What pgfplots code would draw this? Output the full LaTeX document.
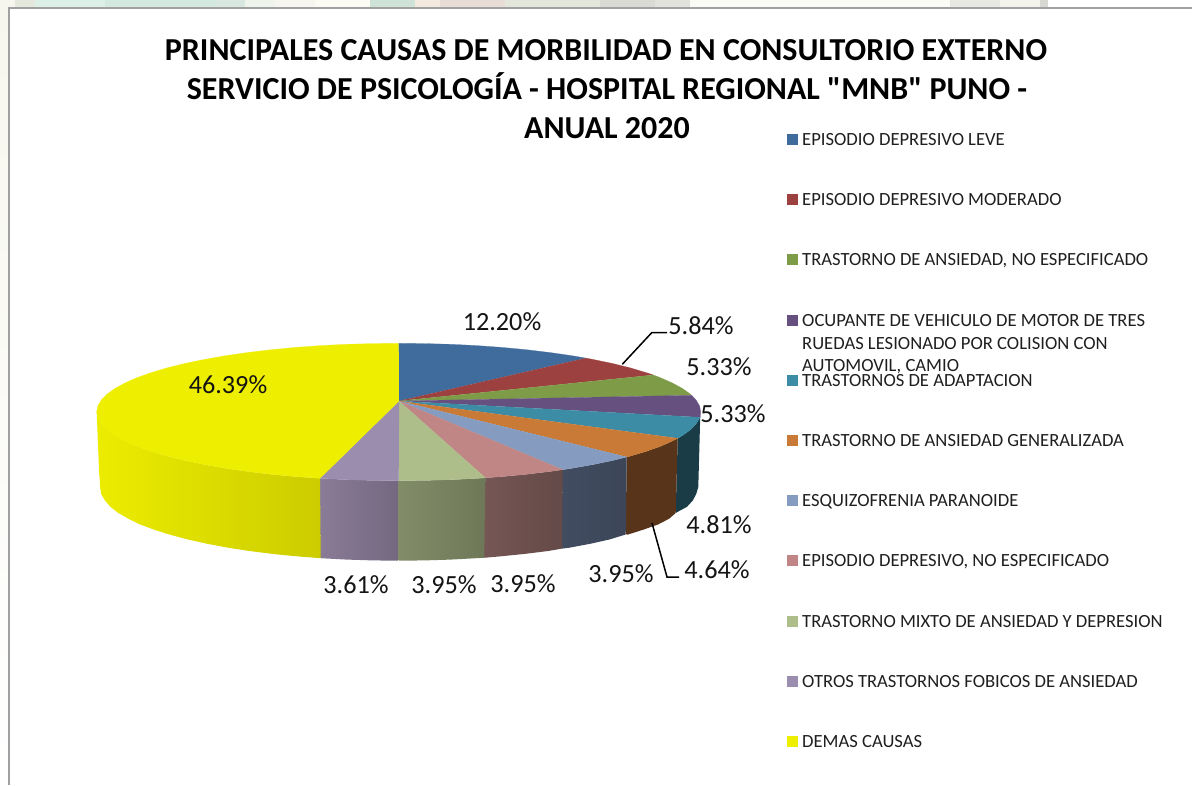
\documentclass[border=0pt]{standalone}
\usepackage{fontspec}
\setmainfont{Carlito}
\newfontfamily\plainfont{Carlito}
\usepackage{pgfplots}
\pgfplotsset{compat=1.18}
\definecolor{cBlue}{HTML}{3F6C9C}
\definecolor{cRed}{HTML}{9C4140}
\definecolor{cGreen}{HTML}{7E9B48}
\definecolor{cPurple}{HTML}{66507F}
\definecolor{cTeal}{HTML}{3D8CA5}
\definecolor{cOrange}{HTML}{C87A36}
\definecolor{cPeri}{HTML}{859CC0}
\definecolor{cPink}{HTML}{C08685}
\definecolor{cLGreen}{HTML}{AEBE8B}
\definecolor{cLilac}{HTML}{9B8DAE}
\definecolor{cYellow}{HTML}{EEEE00}
\definecolor{cCream}{HTML}{F7F6EE}
\newcommand{\legitem}[3]{%
  \addplot[only marks, mark=square*, mark size=5pt, mark options={draw=#1,fill=#1}] coordinates {(792,#2)};
  \node[anchor=base west, inner sep=0pt, font=\fontsize{18.6}{18.6}\selectfont, text=black!88] at (axis cs:802,#2+6) {#3};
}
\newcommand{\lab}[3]{\node[anchor=base, inner sep=0pt, font=\fontsize{26.2}{26.2}\selectfont, text=black!92] at (axis cs:#1,#2+8) {#3};}
\begin{document}
\begin{tikzpicture}
\begin{axis}[hide axis, scale only axis, width=1192pt, height=785pt,
  xmin=0, xmax=1192, ymin=0, ymax=785, y dir=reverse, clip=true]
\fill[white] (axis cs:0,0) rectangle (axis cs:1192,785);
% background strips
\shade[top color=cCream, bottom color=white] (axis cs:0,8) rectangle (axis cs:9,785);
\fill[fill={rgb,255:red,246;green,245;blue,238}] (axis cs:0,0) rectangle (axis cs:15,8);
\fill[fill={rgb,255:red,228;green,232;blue,220}] (axis cs:15,0) rectangle (axis cs:35,8);
\fill[fill={rgb,255:red,221;green,240;blue,232}] (axis cs:35,0) rectangle (axis cs:105,8);
\fill[fill={rgb,255:red,211;green,232;blue,223}] (axis cs:105,0) rectangle (axis cs:215,8);
\fill[fill={rgb,255:red,216;green,232;blue,224}] (axis cs:215,0) rectangle (axis cs:245,8);
\fill[fill={rgb,255:red,238;green,243;blue,235}] (axis cs:245,0) rectangle (axis cs:275,8);
\fill[fill={rgb,255:red,246;green,245;blue,239}] (axis cs:275,0) rectangle (axis cs:315,8);
\fill[fill={rgb,255:red,251;green,250;blue,243}] (axis cs:315,0) rectangle (axis cs:370,8);
\fill[fill={rgb,255:red,207;green,226;blue,216}] (axis cs:370,0) rectangle (axis cs:415,8);
\fill[fill={rgb,255:red,243;green,233;blue,223}] (axis cs:415,0) rectangle (axis cs:440,8);
\fill[fill={rgb,255:red,232;green,221;blue,214}] (axis cs:440,0) rectangle (axis cs:505,8);
\fill[fill={rgb,255:red,227;green,230;blue,218}] (axis cs:505,0) rectangle (axis cs:600,8);
\fill[fill={rgb,255:red,217;green,218;blue,211}] (axis cs:600,0) rectangle (axis cs:655,8);
\fill[fill={rgb,255:red,226;green,226;blue,220}] (axis cs:655,0) rectangle (axis cs:690,8);
\fill[fill={rgb,255:red,251;green,251;blue,246}] (axis cs:690,0) rectangle (axis cs:950,8);
\fill[fill={rgb,255:red,232;green,232;blue,226}] (axis cs:950,0) rectangle (axis cs:1000,8);
\fill[fill={rgb,255:red,243;green,243;blue,236}] (axis cs:1000,0) rectangle (axis cs:1040,8);
\fill[fill={rgb,255:red,216;green,216;blue,210}] (axis cs:1040,0) rectangle (axis cs:1048,8);
% frame
\addplot[draw={rgb,255:red,160;green,160;blue,160}, line width=2pt] coordinates {(9,785) (9,8) (1192,8)};

% side faces
\addplot[draw=none, fill={rgb,255:red,26;green,60;blue,71}] coordinates {(700.2,417.3)(699.6,418)(696.1,423.9)(690.4,429.8)(682.5,435.5)(677.7,438.3)(675.7,513)(679.2,511)(687,506.8)(692.7,500.6)(696.1,494.3)(698.3,487)};
\addplot[draw=none, fill={rgb,255:red,87;green,52;blue,26}] coordinates {(677.7,438.3)(672.4,441)(660.2,446.4)(646.1,451.4)(630,456.2)(626.7,457)(625.7,534)(627.4,534.7)(643.2,529.7)(658,524.5)(669.2,518.7)(675.7,513)};
\addplot[draw=none, left color={rgb,255:red,66;green,76;blue,97}, right color={rgb,255:red,60;green,70;blue,88}] coordinates {(626.7,457)(612.2,460.6)(592.8,464.6)(571.9,468.3)(562.7,469.7)(562,548.6)(569.9,547.6)(590.6,543.7)(609.8,539.4)(625.7,534.5)};
\addplot[draw=none, left color={rgb,255:red,117;green,86;blue,84}, right color={rgb,255:red,100;green,74;blue,72}] coordinates {(562.7,469.7)(549.7,471.5)(526.3,474.3)(502,476.6)(485.3,477.8)(484.3,557.8)(500.8,556.3)(524.9,553.9)(548,551)(562,548.6)};
\addplot[draw=none, left color={rgb,255:red,130;green,140;blue,104}, right color={rgb,255:red,110;green,120;blue,88}] coordinates {(485.3,477.8)(476.9,478.4)(451.1,479.7)(425,480.4)(398.7,480.7)(398.7,560.7)(424.7,560.4)(450.5,559.6)(476,558.2)(484.3,557.8)};
\addplot[draw=none, left color={rgb,255:red,138;green,123;blue,150}, right color={rgb,255:red,116;green,104;blue,128}] coordinates {(398.7,480.7)(372.4,480.4)(346.3,479.7)(320,478.3)(320.7,558.2)(347,559.6)(372.7,560.4)(398.7,560.7)};
\addplot[draw=none, left color={rgb,255:red,236;green,236;blue,0}, middle color={rgb,255:red,232;green,232;blue,0}, right color={rgb,255:red,204;green,204;blue,0}] coordinates {(320,478.3)(295.4,476.6)(271.1,474.3)(247.7,471.5)(225.5,468.3)(204.6,464.6)(185.2,460.6)(167.4,456.2)(151.3,451.4)(137.2,446.4)(125,441)(114.9,435.5)(107,429.8)(101.3,423.9)(97.8,418)(96.7,412)(99,470)(100.2,488)(101.3,494.3)(105,500.6)(110.4,506.8)(118.2,512.9)(128.2,518.7)(140.2,524.5)(154.2,529.7)(170,534.7)(187.6,539.4)(206.8,543.7)(227.5,547.6)(249.4,551)(272.5,553.9)(296.6,556.3)(320.7,558.2)};

% top face
\addplot[fill=cBlue, draw=cBlue, line width=0.2pt] coordinates {(399,401)(398.7,343.3)(425,343.6)(451.1,344.3)(476.9,345.6)(502,347.4)(526.3,349.7)(549.7,352.5)(571.9,355.7)(586,358.1)};
\addplot[fill=cRed, draw=cRed, line width=0.2pt] coordinates {(399,401)(586,358.1)(592.8,359.4)(612.2,363.4)(630,367.8)(646.1,372.6)(653.3,375)};
\addplot[fill=cGreen, draw=cGreen, line width=0.2pt] coordinates {(399,401)(653.3,375)(660.2,377.6)(672.4,383)(682.5,388.5)(690.4,394.2)(691.7,395.3)};
\addplot[fill=cPurple, draw=cPurple, line width=0.2pt] coordinates {(399,401)(691.7,395.3)(696.1,400.1)(699.6,406)(700.7,412)(700.2,417.3)};
\addplot[fill=cTeal, draw=cTeal, line width=0.2pt] coordinates {(399,401)(700.2,417.3)(699.6,418)(696.1,423.9)(690.4,429.8)(682.5,435.5)(677.7,438.3)};
\addplot[fill=cOrange, draw=cOrange, line width=0.2pt] coordinates {(399,401)(677.7,438.3)(672.4,441)(660.2,446.4)(646.1,451.4)(630,456.2)(626.7,457)};
\addplot[fill=cPeri, draw=cPeri, line width=0.2pt] coordinates {(399,401)(626.7,457)(612.2,460.6)(592.8,464.6)(571.9,468.3)(562.7,469.7)};
\addplot[fill=cPink, draw=cPink, line width=0.2pt] coordinates {(399,401)(562.7,469.7)(549.7,471.5)(526.3,474.3)(502,476.6)(485.3,477.8)};
\addplot[fill=cLGreen, draw=cLGreen, line width=0.2pt] coordinates {(399,401)(485.3,477.8)(476.9,478.4)(451.1,479.7)(425,480.4)(398.7,480.7)};
\addplot[fill=cLilac, draw=cLilac, line width=0.2pt] coordinates {(399,401)(398.7,480.7)(372.4,480.4)(346.3,479.7)(320,478.3)};
\addplot[fill=cYellow, draw=cYellow, line width=0.2pt] coordinates {(399,401)(320,478.3)(295.4,476.6)(271.1,474.3)(247.7,471.5)(225.5,468.3)(204.6,464.6)(185.2,460.6)(167.4,456.2)(151.3,451.4)(137.2,446.4)(125,441)(114.9,435.5)(107,429.8)(101.3,423.9)(97.8,418)(96.7,412)(97.8,406)(101.3,400.1)(107,394.2)(114.9,388.5)(125,383)(137.2,377.6)(151.3,372.6)(167.4,367.8)(185.2,363.4)(204.6,359.4)(225.5,355.7)(247.7,352.5)(271.1,349.7)(295.4,347.4)(320.5,345.6)(346.3,344.3)(372.4,343.6)(398.7,343.3)};

% leader lines
\addplot[black, line width=1.5pt] coordinates {(622.3,364.3)(651.7,332.7)(667,332.7)};
\addplot[black, line width=1.5pt] coordinates {(652,523)(667,577)(679,577)};

% title
\node[anchor=base, inner sep=0pt, font=\fontsize{32}{32}\plainfont\bfseries\selectfont] at (axis cs:606,60) {PRINCIPALES CAUSAS DE MORBILIDAD EN CONSULTORIO EXTERNO};
\node[anchor=base, inner sep=0pt, font=\fontsize{32}{32}\plainfont\bfseries\selectfont] at (axis cs:607,99) {SERVICIO DE PSICOLOGÍA - HOSPITAL REGIONAL "MNB" PUNO -};
\node[anchor=base, inner sep=0pt, font=\fontsize{32}{32}\plainfont\bfseries\selectfont] at (axis cs:607,138) {ANUAL 2020};

% data labels
\lab{502}{322}{12.20\%}
\lab{701}{326}{5.84\%}
\lab{719}{367}{5.33\%}
\lab{733}{414}{5.33\%}
\lab{719}{525}{4.81\%}
\lab{717}{570}{4.64\%}
\lab{621}{574}{3.95\%}
\lab{523}{584}{3.95\%}
\lab{444}{585}{3.95\%}
\lab{356}{585}{3.61\%}
\lab{228}{385}{46.39\%}

% legend
\legitem{cBlue}{139}{EPISODIO DEPRESIVO LEVE}
\legitem{cRed}{199}{EPISODIO DEPRESIVO MODERADO}
\legitem{cGreen}{259}{TRASTORNO DE ANSIEDAD, NO ESPECIFICADO}
\legitem{cPurple}{320}{OCUPANTE DE VEHICULO DE MOTOR DE TRES}
\node[anchor=base west, inner sep=0pt, font=\fontsize{18.6}{18.6}\selectfont, text=black!88] at (axis cs:802,349) {RUEDAS LESIONADO POR COLISION CON};
\node[anchor=base west, inner sep=0pt, font=\fontsize{18.6}{18.6}\selectfont, text=black!88] at (axis cs:802,371) {AUTOMOVIL, CAMIO};
\legitem{cTeal}{380}{TRASTORNOS DE ADAPTACION}
\legitem{cOrange}{440}{TRASTORNO DE ANSIEDAD GENERALIZADA}
\legitem{cPeri}{500}{ESQUIZOFRENIA PARANOIDE}
\legitem{cPink}{560}{EPISODIO DEPRESIVO, NO ESPECIFICADO}
\legitem{cLGreen}{621}{TRASTORNO MIXTO DE ANSIEDAD Y DEPRESION}
\legitem{cLilac}{681}{OTROS TRASTORNOS FOBICOS DE ANSIEDAD}
\legitem{cYellow}{741}{DEMAS CAUSAS}
\end{axis}
\end{tikzpicture}
\end{document}
